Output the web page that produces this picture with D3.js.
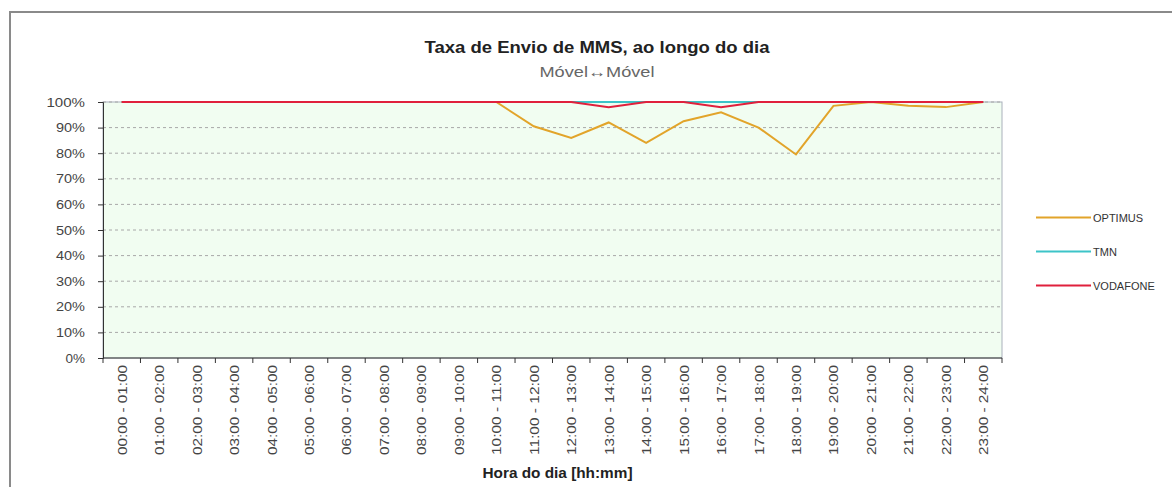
<!DOCTYPE html>
<html>
<head>
<meta charset="utf-8">
<script src="https://cdn.jsdelivr.net/npm/d3@7"></script>
<style>
  body { margin: 0; background: #fff; }
  svg { display: block; font-family: "Liberation Sans", Arial, sans-serif; }
  .grid line { stroke: #a8a8a8; stroke-dasharray: 3,3; }
  .axis text { fill: #444; }
</style>
</head>
<body>
<svg width="1172" height="487"></svg>
<script>
const hours = d3.range(24).map(h => {
  let p = d => String(d).padStart(2, "0");
  return `${p(h)}:00 - ${p(h + 1)}:00`;
});

const optimus = [100, 100, 100, 100, 100, 100, 100, 100, 100, 100, 100, 90.5, 86, 92, 84, 92.5, 96, 90, 79.5, 98.5, 100, 98.5, 98, 100];
const tmn = [100, 100, 100, 100, 100, 100, 100, 100, 100, 100, 100, 100, 100, 100, 100, 100, 100, 100, 100, 100, 100, 100, 100, 100];
const vodafone = [100, 100, 100, 100, 100, 100, 100, 100, 100, 100, 100, 100, 100, 98, 100, 100, 98, 100, 100, 100, 100, 100, 100, 100];

const seriesNames = ["OPTIMUS", "TMN", "VODAFONE"];
const seriesColors = ["#e2a42a", "#3cc4c8", "#e0203c"];
const yTicks = d3.range(0, 101, 10);

let svg = d3.select("svg");

// outer frame (cut off at right and bottom like the screenshot)
svg.append("rect")
  .attr("x", 10).attr("y", 12)
  .attr("width", 1200).attr("height", 500)
  .attr("fill", "none")
  .attr("stroke", "#8a8a8a")
  .attr("stroke-width", 2);

let margin = {left: 103, right: 1002, top: 102, bottom: 358};

let x = d3.scaleBand()
  .domain(hours)
  .range([margin.left, margin.right]);

let y = d3.scaleLinear()
  .domain([0, 100])
  .range([margin.bottom, margin.top]);

// plot background
svg.append("rect")
  .attr("x", margin.left).attr("y", margin.top)
  .attr("width", margin.right - margin.left)
  .attr("height", margin.bottom - margin.top)
  .attr("fill", "#f1fdf1")
  .attr("stroke", "#a9b0bb")
  .attr("stroke-width", 1);

// gridlines
svg.append("g")
  .attr("class", "grid")
  .selectAll("line")
  .data(yTicks.slice(1))
  .enter().append("line")
  .attr("x1", margin.left).attr("x2", margin.right)
  .attr("y1", d => y(d)).attr("y2", d => y(d));

// y axis
let yAxis = svg.append("g")
  .attr("class", "axis")
  .attr("transform", `translate(${margin.left},0)`)
  .call(d3.axisLeft(y).tickValues(yTicks).tickFormat(d => d + "%").tickSize(5).tickPadding(13));
yAxis.select(".domain").attr("stroke", "#333");
yAxis.selectAll(".tick line").attr("stroke", "#333");
yAxis.selectAll("text")
  .attr("font-size", "13px")
  .attr("font-family", "'Liberation Sans Narrow', 'Liberation Sans', sans-serif")
  .attr("textLength", d => String(d).length * 9.5 + 10)
  .attr("lengthAdjust", "spacingAndGlyphs");

// x axis: ticks on category boundaries
let xAxis = svg.append("g")
  .attr("class", "axis")
  .attr("transform", `translate(0,${margin.bottom})`);
xAxis.append("line")
  .attr("x1", margin.left).attr("x2", margin.right)
  .attr("stroke", "#333");
xAxis.selectAll(".btick")
  .data(d3.range(25))
  .enter().append("line")
  .attr("class", "btick")
  .attr("x1", i => margin.left + i * x.step())
  .attr("x2", i => margin.left + i * x.step())
  .attr("y1", 0).attr("y2", 5)
  .attr("stroke", "#333");
xAxis.selectAll(".xlabel")
  .data(hours)
  .enter().append("text")
  .attr("class", "xlabel")
  .attr("text-anchor", "end")
  .attr("font-size", "13px")
  .attr("textLength", 90)
  .attr("lengthAdjust", "spacingAndGlyphs")
  .attr("transform", d => `translate(${x(d) + x.bandwidth() / 2 + 5},7) rotate(-90)`)
  .text(d => d);

// lines
let line = d3.line()
  .x((d, i) => x(hours[i]) + x.bandwidth() / 2)
  .y(d => y(d));

[optimus, tmn, vodafone].forEach((vals, k) => {
  svg.append("path")
    .datum(vals)
    .attr("fill", "none")
    .attr("stroke", seriesColors[k])
    .attr("stroke-width", 2)
    .attr("d", line);
});

// titles
svg.append("text")
  .attr("x", 597).attr("y", 53)
  .attr("text-anchor", "middle")
  .attr("font-size", "17px")
  .attr("font-weight", "bold")
  .attr("fill", "#222")
  .attr("textLength", 345)
  .attr("lengthAdjust", "spacingAndGlyphs")
  .text("Taxa de Envio de MMS, ao longo do dia");

svg.append("text")
  .attr("x", 597).attr("y", 77)
  .attr("text-anchor", "middle")
  .attr("font-size", "15px")
  .attr("fill", "#666")
  .attr("textLength", 115)
  .attr("lengthAdjust", "spacingAndGlyphs")
  .text("Móvel↔Móvel");

svg.append("text")
  .attr("x", (margin.left + margin.right) / 2 + 5).attr("y", 478)
  .attr("text-anchor", "middle")
  .attr("font-size", "14px")
  .attr("font-weight", "bold")
  .attr("fill", "#222")
  .attr("textLength", 150)
  .attr("lengthAdjust", "spacingAndGlyphs")
  .text("Hora do dia [hh:mm]");

// legend
let legend = svg.append("g")
  .selectAll("g")
  .data(seriesNames)
  .enter().append("g")
  .attr("transform", (d, i) => `translate(1036,${217.5 + i * 34})`);
legend.append("line")
  .attr("x1", 0).attr("x2", 55)
  .attr("stroke", (d, i) => seriesColors[i])
  .attr("stroke-width", 2);
legend.append("text")
  .attr("x", 57).attr("y", 4)
  .attr("font-size", "11px")
  .attr("fill", "#333")
  .text(d => d);
</script>
</body>
</html>
